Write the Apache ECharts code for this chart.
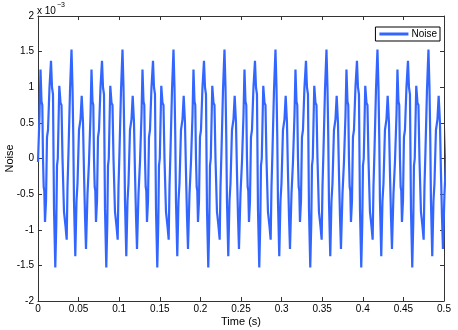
<!DOCTYPE html>
<html>
<head>
<meta charset="utf-8">
<script src="https://cdn.jsdelivr.net/npm/echarts@6/dist/echarts.min.js"></script>
<style>
  html, body { margin: 0; padding: 0; background: #fff; }
  #chart { width: 458px; height: 330px; }
</style>
</head>
<body>
<div id="chart"></div>
<script>
// one cycle of the noise (time offset in s, noise in 1e-3 units)
const cycleOffset = [0, 0.00185, 0.00308, 0.00431, 0.0053, 0.00616, 0.00702, 0.00776, 0.00862, 0.00985,
  0.01108, 0.01232, 0.01416, 0.01601, 0.01724, 0.01847, 0.0197, 0.0213, 0.02254, 0.0234,
  0.02438, 0.02623, 0.02771, 0.02894, 0.03017, 0.03202, 0.03387, 0.03534, 0.03633, 0.03756,
  0.03941, 0.04126, 0.04249, 0.04347, 0.04433, 0.04594, 0.04741, 0.04865, 0.05049, 0.05234,
  0.05382, 0.05542, 0.05665, 0.05788, 0.05911, 0.06096]
const cycleNoise = [-0.05, 0.6, 1.25, 0.8, 0.75, 0.0, -0.4, -0.45, -0.89, -0.6,
  0.3, 0.4, 1.0, 1.37, 1.0, 0.9, -0.7, -1.53, -0.9, -0.1,
  0.0, 1.02, 0.78, 0.75, 0.0, -0.75, -0.95, -1.14, -0.4, 0.1,
  0.95, 1.53, 1.0, 0.3, -0.6, -1.37, -0.6, -0.35, 0.4, 0.55,
  0.88, 0.5, -0.2, -0.8, -1.27, -0.5]
// start time of each repeat seen in the plot
const cycleStart = [0, 0.0628, 0.1256, 0.1884, 0.2512, 0.314, 0.3768, 0.4396, 0.5024]

const xTicks = [0, 0.05, 0.1, 0.15, 0.2, 0.25, 0.3, 0.35, 0.4, 0.45, 0.5]
const yTicks = [-2, -1.5, -1, -0.5, 0, 0.5, 1, 1.5, 2]

const noiseData = []
cycleStart.forEach(s => {
  cycleOffset.forEach((o, i) => {
    noiseData.push([+(s + o).toFixed(5), cycleNoise[i]])
  })
})

const chart = echarts.init(document.getElementById('chart'))
const axisColor = '#333'
const font = 'Liberation Sans, Arial, sans-serif'

const xBase = {
  type: 'value',
  min: 0,
  max: 0.5,
  interval: 0.05,
  axisLine: { onZero: false, lineStyle: { color: axisColor, width: 1 } },
  axisTick: { inside: true, length: 4, lineStyle: { color: axisColor } },
  splitLine: { show: false }
}
const yBase = {
  type: 'value',
  min: -2,
  max: 2,
  interval: 0.5,
  axisLine: { onZero: false, lineStyle: { color: axisColor, width: 1 } },
  axisTick: { inside: true, length: 4, lineStyle: { color: axisColor } },
  splitLine: { show: false }
}

chart.setOption({
  animation: false,
  backgroundColor: '#fff',
  textStyle: { fontFamily: font },
  grid: { left: 38, right: 14, top: 16, bottom: 29, containLabel: false, outerBoundsMode: 'none' },
  legend: {
    data: ['Noise'],
    right: 18,
    top: 27,
    orient: 'vertical',
    backgroundColor: '#fff',
    borderColor: '#000',
    borderWidth: 1,
    borderRadius: 0,
    padding: [2, 3, 2, 4],
    itemWidth: 29,
    itemHeight: 3,
    itemGap: 0,
    icon: 'rect',
    textStyle: { fontSize: 10, color: '#000', fontFamily: font, padding: [0, 0, 0, -2] }
  },
  graphic: [{
    type: 'text',
    left: 37,
    top: 2,
    style: {
      text: '{a|x 10}{b|−3}',
      rich: {
        a: { fontSize: 10, fontFamily: font, fill: '#000', padding: [4, 0, 0, 0] },
        b: { fontSize: 7, fontFamily: font, fill: '#000', verticalAlign: 'top', padding: [0, 0, 4, 1] }
      }
    }
  }],
  xAxis: [
    Object.assign({}, xBase, {
      position: 'bottom',
      name: 'Time (s)',
      nameLocation: 'middle',
      nameGap: 15,
      nameMoveOverlap: false,
      nameTextStyle: { fontSize: 11, color: '#000', fontFamily: font },
      axisLabel: {
        margin: 3,
        fontSize: 10,
        color: '#000',
        formatter: v => {
          const t = xTicks.find(x => Math.abs(x - v) < 1e-9)
          return t === undefined ? '' : String(t)
        }
      }
    }),
    Object.assign({}, xBase, { position: 'top', axisLabel: { show: false } })
  ],
  yAxis: [
    Object.assign({}, yBase, {
      position: 'left',
      name: 'Noise',
      nameLocation: 'middle',
      nameGap: 23,
      nameMoveOverlap: false,
      nameTextStyle: { fontSize: 11, color: '#000', fontFamily: font },
      axisLabel: {
        margin: 4,
        fontSize: 10,
        color: '#000',
        formatter: v => {
          const t = yTicks.find(y => Math.abs(y - v) < 1e-9)
          return t === undefined ? '' : String(t)
        }
      }
    }),
    Object.assign({}, yBase, { position: 'right', axisLabel: { show: false } })
  ],
  series: [{
    name: 'Noise',
    type: 'line',
    xAxisIndex: 0,
    yAxisIndex: 0,
    data: noiseData,
    showSymbol: false,
    clip: true,
    color: '#3366ff',
    lineStyle: { width: 2.2, color: '#3366ff' }
  }]
})
</script>
</body>
</html>
